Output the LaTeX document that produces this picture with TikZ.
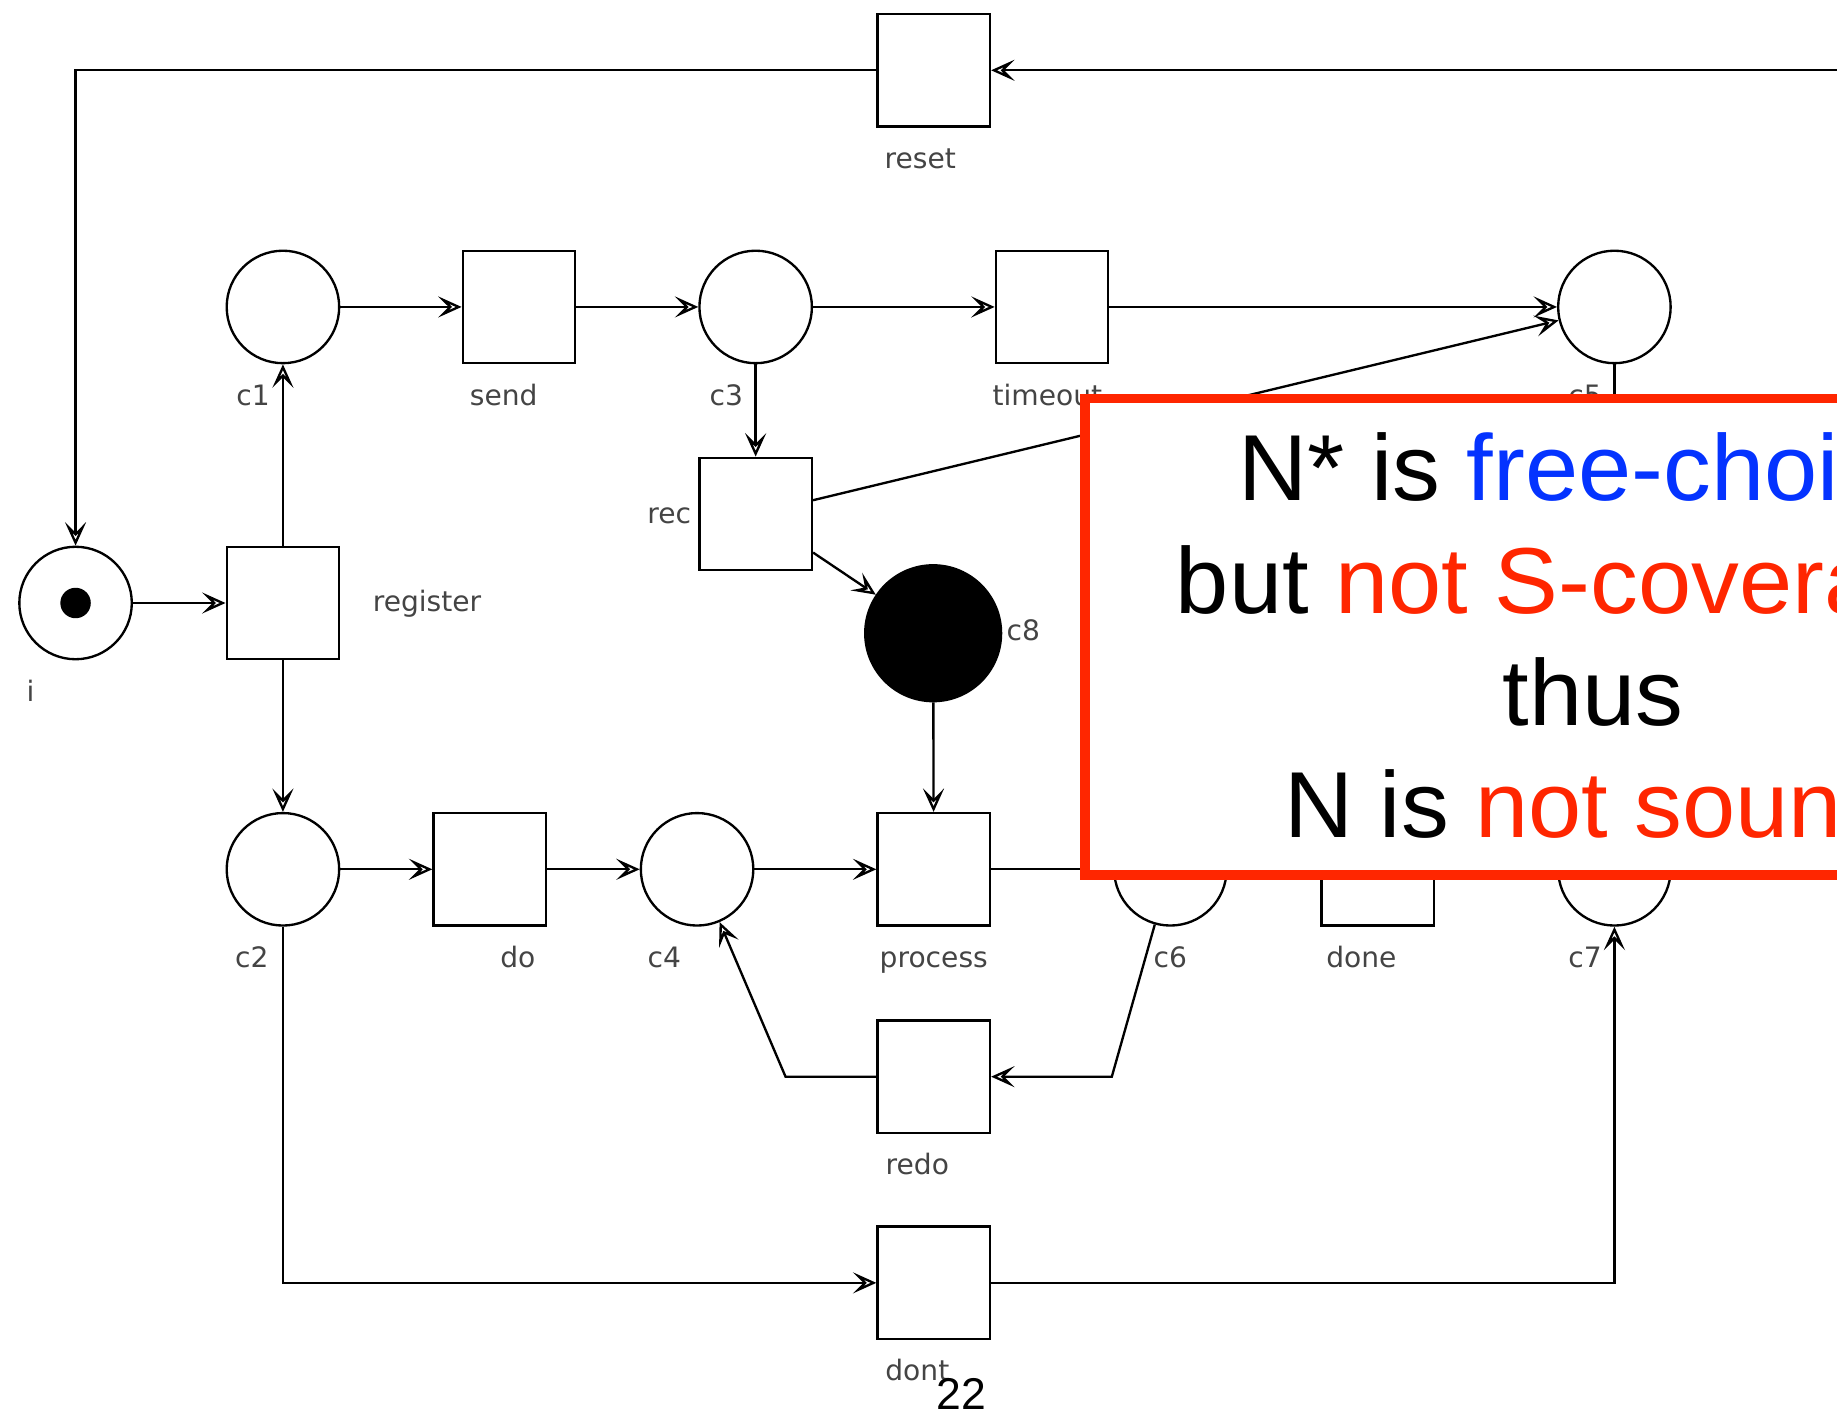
\documentclass[tikz,border=0pt]{standalone}
\usepackage{fontspec}
\usepackage{graphicx}
\setmainfont{Liberation Sans}
\newfontfamily\netfont{DejaVu Sans}
\usetikzlibrary{arrows.meta}
\definecolor{kred}{HTML}{FF2600}
\definecolor{kblue}{HTML}{0433FF}
\definecolor{lblgray}{HTML}{444444}
\tikzset{
 place/.style={circle,draw,line width=2pt,minimum size=96pt,inner sep=0pt},
 trans/.style={rectangle,draw,line width=2pt,minimum size=96pt,inner sep=0pt},
 lbl/.style={font=\netfont\fontsize{24}{28}\selectfont,text=lblgray,inner sep=0pt},
 pnarc/.style={line width=2pt,-{Stealth[open,length=20pt,width=18pt,inset=9pt,line width=2pt]}},
 pnline/.style={line width=2pt},
 big/.style={font=\fontsize{80}{96}\selectfont,inner sep=0pt,anchor=base west},
}
\newcommand{\widetext}[1]{\scalebox{1.02}[1]{#1}}
\begin{document}
\begin{tikzpicture}[x=1pt,y=-1pt]
\useasboundingbox (0,0) rectangle (1568,1207);
\clip (0,0) rectangle (1568,1207);
% transitions
\node[trans] (reset) at (797,60) {};
\node[trans] (send) at (443,262) {};
\node[trans] (timeout) at (898,262) {};
\node[trans] (rec) at (645,438.7) {};
\node[trans] (register) at (241.5,514.7) {};
\node[trans] (do) at (418,742) {};
\node[trans] (process) at (797,742) {};
\node[trans] (done) at (1176,742) {};
\node[trans] (redo) at (797,919) {};
\node[trans] (dont) at (797,1095) {};
% places
\node[place] (i) at (64.5,514.7) {};
\fill (64.5,514.7) circle[radius=13pt];
\node[place] (c1) at (241.5,262) {};
\node[place] (c3) at (645,262) {};
\node[place] (c5) at (1378,262) {};
\node[place] (c2) at (241.5,742) {};
\node[place] (c4) at (595,742) {};
\node[place] (c6) at (999,742) {};
\node[place] (c7) at (1378,742) {};
\node[place,fill=black,minimum size=116pt] (c8) at (796.5,540.5) {};
% helper coordinates
\coordinate (rin) at (1600,60);
\coordinate (c5d) at (1378,420);
\coordinate (b1) at (949,919);
\coordinate (b2) at (670.5,919);
% arcs
\draw[pnarc] (rin) -- (reset);
\draw[pnarc] (reset) -| (i);
\draw[pnarc] (i) -- (register);
\draw[pnarc] (register) -- (c1);
\draw[pnarc] (register) -- (c2);
\draw[pnarc] (c1) -- (send);
\draw[pnarc] (send) -- (c3);
\draw[pnarc] (c3) -- (timeout);
\draw[pnarc] (timeout) -- (c5);
\draw[pnarc] (c3) -- (rec);
\draw[pnarc] (rec) -- (c5);
\draw[pnarc] (rec) -- (c8);
\draw[pnarc] (c8) -- (process);
\draw[pnarc] (c2) -- (do);
\draw[pnarc] (do) -- (c4);
\draw[pnarc] (c4) -- (process);
\draw[pnarc] (process) -- (c6);
\draw[pnarc] (c6) -- (b1) -- (redo);
\draw[pnarc] (redo) -- (b2) -- (c4);
\draw[pnarc] (c2) |- (dont);
\draw[pnarc] (dont) -| (c7);
\draw[pnline] (c5) -- (c5d);
% labels
\node[lbl,anchor=base] (lreset) at (785.5,143.6) {reset};
\node[lbl,anchor=base] (lc1) at (216,345.7) {c1};
\node[lbl,anchor=base] (lsend) at (430,345.7) {send};
\node[lbl,anchor=base] (lc3) at (620,345.7) {c3};
\node[lbl,anchor=base west] (ltimeout) at (847,345.7) {timeout};
\node[lbl,anchor=base] (lc5) at (1353,345.7) {c5};
\node[lbl,anchor=base east] (lrec) at (590,447) {rec};
\node[lbl,anchor=base west] (lregister) at (318,522) {register};
\node[lbl,anchor=base] (li) at (26,599) {i};
\node[lbl,anchor=base west] (lc8) at (859,547) {c8};
\node[lbl,anchor=base] (lc2) at (215,825.5) {c2};
\node[lbl,anchor=base] (ldo) at (442,825.5) {do};
\node[lbl,anchor=base] (lc4) at (567,825.5) {c4};
\node[lbl,anchor=base] (lprocess) at (797,825.5) {process};
\node[lbl,anchor=base] (lc6) at (999,825.5) {c6};
\node[lbl,anchor=base] (ldone) at (1162,825.5) {done};
\node[lbl,anchor=base] (lc7) at (1353,825.5) {c7};
\node[lbl,anchor=base] (lredo) at (783,1002.5) {redo};
\node[lbl,anchor=base] (ldont) at (783,1178.5) {dont};
% overlay box
\draw[kred,line width=8pt,fill=white] (926,340) rectangle (1700,747);
\node[big] (t1) at (1057,427.6) {\widetext{N* is \textcolor{kblue}{free-choice}}};
\node[big] (t2) at (1003.5,524) {\widetext{but \textcolor{kred}{not S-coverable}}};
\node[big] (t3) at (1282.6,619.3) {\widetext{thus}};
\node[big] (t4) at (1096,715) {\widetext{N is \textcolor{kred}{not sound}}};
% page number
\node[font=\fontsize{38}{40}\selectfont,anchor=base west,inner sep=0pt] (pg) at (799,1203.5) {22};
\end{tikzpicture}
\end{document}
